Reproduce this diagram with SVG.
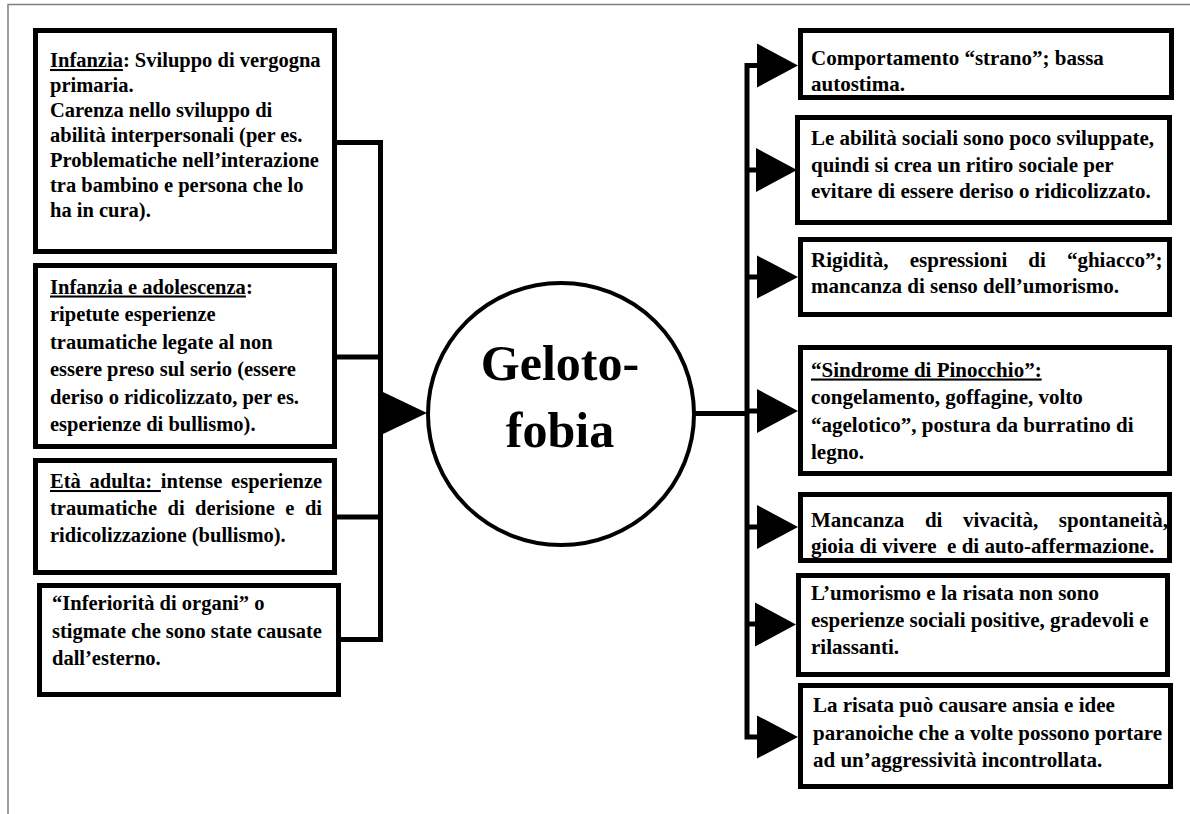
<svg xmlns="http://www.w3.org/2000/svg" width="1190" height="814" viewBox="0 0 1190 814">
<style>
text{font-family:"Liberation Serif","Times New Roman",serif;font-weight:bold;fill:#000}
.l{font-size:20.5px}
.r{font-size:21px}
.u{text-decoration:underline}
.box{fill:#fff;stroke:#000;stroke-width:5}
.wire{fill:none;stroke:#000;stroke-width:5}
.arr{fill:#000;stroke:none}
.title{font-size:50px;text-anchor:middle}
</style>
<rect width="1190" height="814" fill="#fff"/>
<path d="M8,814 V4.5 H1190" fill="none" stroke="#808080" stroke-width="1.5"/>

<g id="connectors">
  <path class="wire" d="M337,142.5 H380.5 V639.5 H341 M337,357 H380.5 M337,517 H380.5"/>
  <polygon class="arr" points="383,392 427,413 383,434"/>
  <path class="wire" d="M694,413.5 H747"/>
  <path class="wire" d="M758,65.5 H747 V737 H758 M747,170 H758 M747,277 H758 M747,411 H758 M747,527 H758 M747,624 H758"/>
  <polygon class="arr" points="757,43.5 798,65.5 757,87.5"/>
  <polygon class="arr" points="756,148 797,170 756,192"/>
  <polygon class="arr" points="757,255.5 798,277 757,298.5"/>
  <polygon class="arr" points="757,389 798,411 757,433"/>
  <polygon class="arr" points="757,505 798,527 757,549"/>
  <polygon class="arr" points="755,602.5 796,624.5 755,646.5"/>
  <polygon class="arr" points="757,715.5 798,737 757,758.5"/>
</g>

<g id="center">
  <ellipse cx="561" cy="414" rx="133" ry="131" fill="#fff" stroke="#000" stroke-width="4"/>
  <text class="title" x="560" y="380">Geloto-</text>
  <text class="title" x="560" y="447">fobia</text>
</g>

<g id="cause1">
  <rect class="box" x="35.5" y="30.5" width="299" height="221"/>
  <text class="l" x="50" y="67"><tspan class="u">Infanzia</tspan>: Sviluppo di vergogna</text>
  <text class="l" x="50" y="92">primaria.</text>
  <text class="l" x="50" y="117">Carenza nello sviluppo di</text>
  <text class="l" x="50" y="142">abilità interpersonali (per es.</text>
  <text class="l" x="50" y="167">Problematiche nell’interazione</text>
  <text class="l" x="50" y="192">tra bambino e persona che lo</text>
  <text class="l" x="50" y="217">ha in cura).</text>
</g>

<g id="cause2">
  <rect class="box" x="35.5" y="265.5" width="299" height="181"/>
  <text class="l" x="50" y="293.5"><tspan class="u">Infanzia e adolescenza</tspan>:</text>
  <text class="l" x="50" y="321">ripetute esperienze</text>
  <text class="l" x="50" y="348.5">traumatiche legate al non</text>
  <text class="l" x="50" y="376">essere preso sul serio (essere</text>
  <text class="l" x="50" y="403.5">deriso o ridicolizzato, per es.</text>
  <text class="l" x="50" y="431">esperienze di bullismo).</text>
</g>

<g id="cause3">
  <rect class="box" x="35.5" y="460.5" width="299" height="112"/>
  <text class="l" x="50" y="488" word-spacing="3.6"><tspan class="u">Età adulta: </tspan>intense esperienze</text>
  <text class="l" x="50" y="515" word-spacing="5.36">traumatiche di derisione e di</text>
  <text class="l" x="50" y="542">ridicolizzazione (bullismo).</text>
</g>

<g id="cause4">
  <rect class="box" x="39.5" y="585.5" width="299" height="109"/>
  <text class="l" x="52" y="610">“Inferiorità di organi” o</text>
  <text class="l" x="52" y="637.5">stigmate che sono state causate</text>
  <text class="l" x="52" y="665">dall’esterno.</text>
</g>

<g id="effect1">
  <rect class="box" x="800.5" y="30.5" width="371" height="67"/>
  <text class="r" x="811" y="65">Comportamento “strano”; bassa</text>
  <text class="r" x="811" y="91">autostima.</text>
</g>

<g id="effect2">
  <rect class="box" x="797.5" y="117.5" width="372" height="105"/>
  <text class="r" x="811" y="145">Le abilità sociali sono poco sviluppate,</text>
  <text class="r" x="811" y="171.5">quindi si crea un ritiro sociale per</text>
  <text class="r" x="811" y="198">evitare di essere deriso o ridicolizzato.</text>
</g>

<g id="effect3">
  <rect class="box" x="800.5" y="239.5" width="369" height="75"/>
  <text class="r" x="811" y="266.5" word-spacing="15.8">Rigidità, espressioni di “ghiacco”;</text>
  <text class="r" x="811" y="292.5">mancanza di senso dell’umorismo.</text>
</g>

<g id="effect4">
  <rect class="box" x="800.5" y="347.5" width="369" height="126"/>
  <text class="r" x="811" y="376.5"><tspan class="u">“Sindrome di Pinocchio”:</tspan></text>
  <text class="r" x="811" y="404">congelamento, goffagine, volto</text>
  <text class="r" x="811" y="431.5">“agelotico”, postura da burratino di</text>
  <text class="r" x="811" y="458.5">legno.</text>
</g>

<g id="effect5">
  <rect class="box" x="800.5" y="494.5" width="369" height="66"/>
  <text class="r" x="811" y="526.5" word-spacing="15.35">Mancanza di vivacità, spontaneità,</text>
  <text class="r" x="811" y="552.5" xml:space="preserve">gioia di vivere  e di auto-affermazione.</text>
</g>

<g id="effect6">
  <rect class="box" x="798.5" y="575.5" width="369" height="99"/>
  <text class="r" x="811" y="600">L’umorismo e la risata non sono</text>
  <text class="r" x="811" y="627">esperienze sociali positive, gradevoli e</text>
  <text class="r" x="811" y="654">rilassanti.</text>
</g>

<g id="effect7">
  <rect class="box" x="800.5" y="685.5" width="370" height="101"/>
  <text class="r" x="813" y="712">La risata può causare ansia e idee</text>
  <text class="r" x="813" y="740">paranoiche che a volte possono portare</text>
  <text class="r" x="813" y="767">ad un’aggressività incontrollata.</text>
</g>
</svg>
